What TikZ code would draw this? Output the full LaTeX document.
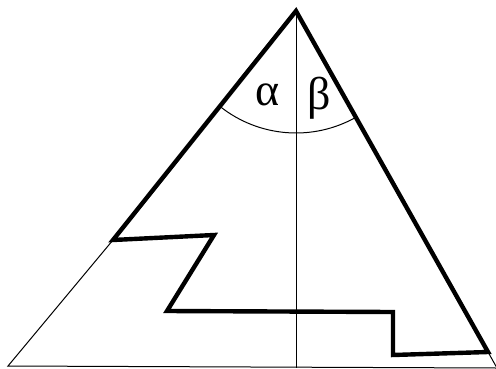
\documentclass[tikz,border=0pt]{standalone}
\usepackage{fontspec}
\setmainfont{Liberation Serif}
\begin{document}
\begin{tikzpicture}[x=1pt,y=-1pt,
  thickline/.style={line width=4.4pt,line join=miter,line cap=round},
  thinline/.style={line width=1pt},
  greek/.style={font=\fontsize{46}{46}\selectfont,inner sep=0pt}]
\useasboundingbox (0,0) rectangle (496,368);
\coordinate (A) at (296,11);
\coordinate (L) at (8,366);
\coordinate (R) at (497,368);
\coordinate (P1) at (113,240);
\coordinate (P2) at (214,235);
\coordinate (P3) at (167,311);
\coordinate (P4) at (393,312);
\coordinate (P5) at (393,355);
\coordinate (P6) at (488,352);
\coordinate (V) at (296,368);
% thin lines
\draw[thinline] (P1) -- (L) -- (R);
\draw[thinline] (P6) -- (R);
\draw[thinline] (A) -- (V);
% arc
\draw[thinline] (A) ++(128.6:122) arc[start angle=128.6,end angle=60.6,radius=122];
% thick outline
\draw[thickline] (P6) -- (A) -- (P1) -- (P2) -- (P3) -- (P4) -- (P5) -- (P6) -- cycle;
\node[greek] (alpha) at (268,95) {α};
\node[greek] (beta) at (319,98) {β};
\end{tikzpicture}
\end{document}
